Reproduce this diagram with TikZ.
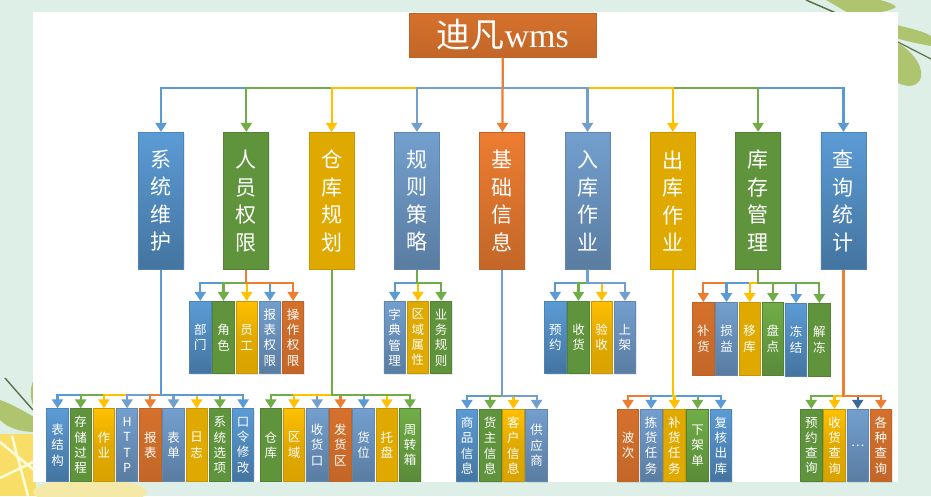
\documentclass[tikz,border=0pt]{standalone}
\usepackage{fontspec}
\setmainfont{Liberation Serif}
\newfontfamily\cjk{Noto Sans CJK SC}
\usetikzlibrary{arrows.meta,shadows}

\definecolor{cblue}{HTML}{5B9BD5}
\definecolor{cgreen}{HTML}{70AD47}
\definecolor{cgold}{HTML}{FFC000}
\definecolor{csteel}{HTML}{739FCE}
\definecolor{corange}{HTML}{ED7D31}
\definecolor{cnavy}{HTML}{3A6A98}
\definecolor{cmint}{HTML}{DEEFE8}
\definecolor{cleaf}{HTML}{AEC46F}
\definecolor{cstem}{HTML}{5F7048}
\definecolor{clemon}{HTML}{F8DE66}
\definecolor{cpale}{HTML}{F5E9A8}

\begin{document}
\begin{tikzpicture}[x=1pt, y=-1pt, node distance={23.2pt},
    box/.style = {draw, inner sep=0pt, text=white, align=center, line width=0.8pt,
        drop shadow={opacity=0.18, shadow xshift=1pt, shadow yshift=-1pt}},
    main/.style = {box, minimum width=45pt, minimum height=137pt, node distance=85.3pt,
        font=\cjk\fontsize{21}{27.5}\selectfont},
    leaf/.style = {box, minimum width=21.5pt, minimum height=72.5pt,
        font=\cjk\fontsize{12.5}{15.3}\selectfont},
    blu/.style = {draw=cblue!85!black, top color=cblue, bottom color=cblue!75!black},
    grn/.style = {draw=cgreen!75!black, fill=cgreen!85!black},
    grnb/.style = {draw=cgreen!75!black, top color=cgreen, bottom color=cgreen!80!black},
    gld/.style = {draw=cgold!78!black, fill=cgold!88!black},
    gldb/.style = {draw=cgold!78!black, top color=cgold, bottom color=cgold!85!black, middle color=cgold!88!black},
    stl/.style = {draw=csteel!85!black, top color=csteel, bottom color=csteel!78!black},
    org/.style = {draw=corange!80!black, top color=corange!90!black, bottom color=corange!82!black},
    orgb/.style = {draw=corange!80!black, top color=corange, bottom color=corange!82!black},
    link/.style = {-{Triangle[width=11pt,length=9pt]}, line width=2.2pt}]

    % page behind the diagram
    \useasboundingbox (0,0) rectangle (931,496);
    \fill[cmint] (0,0) rectangle (931,496);
    \fill[cleaf] (826,0) -- (880,0) .. controls (888,2) and (894,4) .. (896,7) .. controls (890,12) and (870,14) .. (850,14) -- cycle;
    \draw[cstem, line width=1.5pt] (806,0) -- (836,13);
    \fill[cleaf] (896,25) .. controls (910,28) and (925,32) .. (931,36) -- (931,46) .. controls (920,44) and (905,41) .. (896,38) -- cycle;
    \fill[cleaf] (896,42) .. controls (915,52) and (925,70) .. (920,80) .. controls (915,88) and (905,87) .. (896,82) -- cycle;
    \draw[cstem, line width=1.2pt] (896,41) -- (931,59);
    \fill[cleaf] (0,400) .. controls (12,404) and (25,412) .. (36,418) -- (36,432) .. controls (20,432) and (8,428) .. (0,420) -- cycle;
    \fill[cleaf] (36,375) .. controls (30,385) and (28,398) .. (36,412) -- cycle;
    \draw[cstem, line width=1.4pt] (5,378) -- (33,410);
    \fill[clemon] (-10,434) -- (36,434) -- (36,496) -- (-10,496) -- cycle;
    \draw[white!85!yellow, line width=2.5pt] (0,442) -- (34,470) (12,436) -- (28,496) (0,478) -- (33,462);
    \fill[cpale] (90,492) ellipse (57 and 13);
    \fill[white] (33,12) rectangle (898,481.5);

    % root and first row
    \node[box, org, minimum width=187pt, minimum height=44pt, font=\fontsize{34}{34}\selectfont] (0) at (502.7,35.2) {{\cjk 迪凡}wms};
    \node[main, blu] (1) at (161,200.8) {系\\统\\维\\护};
    \node[main, grn] (2) [right of = 1] {人\\员\\权\\限};
    \node[main, gld] (3) [right of = 2] {仓\\库\\规\\划};
    \node[main, stl] (4) [right of = 3] {规\\则\\策\\略};
    \node[main, orgb] (5) [right of = 4] {基\\础\\信\\息};
    \node[main, stl] (6) [right of = 5] {入\\库\\作\\业};
    \node[main, gld] (7) [right of = 6] {出\\库\\作\\业};
    \node[main, grn] (8) [right of = 7] {库\\存\\管\\理};
    \node[main, blu] (9) [right of = 8] {查\\询\\统\\计};

    % second row
    \node[leaf, blu] (201) at (200.3,337.5) {部\\门};
    \node[leaf, grn] (202) [right of = 201] {角\\色};
    \node[leaf, gldb] (203) [right of = 202] {员\\工};
    \node[leaf, stl] (204) [right of = 203] {报\\表\\权\\限};
    \node[leaf, org] (205) [right of = 204] {操\\作\\权\\限};

    \node[leaf, stl] (401) at (394.7,337.5) {字\\典\\管\\理};
    \node[leaf, gld] (402) [right of = 401] {区\\域\\属\\性};
    \node[leaf, grn] (403) [right of = 402] {业\\务\\规\\则};

    \node[leaf, blu] (601) at (555.3,337.5) {预\\约};
    \node[leaf, grn] (602) [right of = 601] {收\\货};
    \node[leaf, gldb] (603) [right of = 602] {验\\收};
    \node[leaf, stl] (604) [right of = 603] {上\\架};

    \node[leaf, org] (801) at (703.3,338.7) {补\\货};
    \node[leaf, stl] (802) [right of = 801] {损\\益};
    \node[leaf, gld] (803) [right of = 802] {移\\库};
    \node[leaf, grnb] (804) [right of = 803] {盘\\点};
    \node[leaf, blu] (805) [right of = 804, yshift=-1pt] {冻\\结};
    \node[leaf, grn] (806) [right of = 805] {解\\冻};

    % third row
    \node[leaf, blu] (101) at (57.5,445) {表\\结\\构};
    \node[leaf, grn] (102) [right of = 101] {存\\储\\过\\程};
    \node[leaf, gldb] (103) [right of = 102] {作\\业};
    \node[leaf, stl] (104) [right of = 103] {H\\T\\T\\P};
    \node[leaf, org] (105) [right of = 104] {报\\表};
    \node[leaf, stl] (106) [right of = 105] {表\\单};
    \node[leaf, gld] (107) [right of = 106] {日\\志};
    \node[leaf, grn] (108) [right of = 107] {系\\统\\选\\项};
    \node[leaf, blu] (109) [right of = 108] {口\\令\\修\\改};

    \node[leaf, grn] (301) at (270.8,445) {仓\\库};
    \node[leaf, gldb] (302) [right of = 301] {区\\域};
    \node[leaf, stl] (303) [right of = 302] {收\\货\\口};
    \node[leaf, org] (304) [right of = 303] {发\\货\\区};
    \node[leaf, stl] (305) [right of = 304] {货\\位};
    \node[leaf, gld] (306) [right of = 305] {托\\盘};
    \node[leaf, grnb] (307) [right of = 306] {周\\转\\箱};

    \node[leaf, blu] (501) at (467,445.5) {商\\品\\信\\息};
    \node[leaf, grn] (502) [right of = 501] {货\\主\\信\\息};
    \node[leaf, gldb] (503) [right of = 502] {客\\户\\信\\息};
    \node[leaf, stl] (504) [right of = 503] {供\\应\\商};

    \node[leaf, org] (701) at (628,445.5) {波\\次};
    \node[leaf, stl] (702) [right of = 701] {拣\\货\\任\\务};
    \node[leaf, gld] (703) [right of = 702] {补\\货\\任\\务};
    \node[leaf, grnb] (704) [right of = 703] {下\\架\\单};
    \node[leaf, blu] (705) [right of = 704] {复\\核\\出\\库};

    \node[leaf, grn] (901) at (811.3,445.5) {预\\约\\查\\询};
    \node[leaf, gldb] (902) [right of = 901] {收\\货\\查\\询};
    \node[leaf, stl] (903) [right of = 902] {…};
    \node[leaf, org] (904) [right of = 903] {各\\种\\查\\询};

    % root links, outermost first
    \draw[link, cblue] (0.south) -- ++(0,30) -| (1);
    \draw[link, cgreen] (0.south) -- ++(0,30) -| (2);
    \draw[link, cgold] (0.south) -- ++(0,30) -| (3);
    \draw[link, csteel] (0.south) -- ++(0,30) -| (4);
    \draw[link, cblue] (0.south) -- ++(0,30) -| (9);
    \draw[link, cgreen] (0.south) -- ++(0,30) -| (8);
    \draw[link, cgold] (0.south) -- ++(0,30) -| (7);
    \draw[link, csteel] (0.south) -- ++(0,30) -| (6);
    \draw[link, corange] (0.south) -- (5);

    % system links
    \draw[link, cblue] (1.south) -- ++(0,125.5) -| (101);
    \draw[link, cgreen] (1.south) -- ++(0,125.5) -| (102);
    \draw[link, cgold] (1.south) -- ++(0,125.5) -| (103);
    \draw[link, csteel] (1.south) -- ++(0,125.5) -| (104);
    \draw[link, corange] (1.south) -- ++(0,125.5) -| (105);
    \draw[link, csteel] (1.south) -- ++(0,125.5) -| (106);
    \draw[link, cgold] (1.south) -- ++(0,125.5) -| (107);
    \draw[link, cgreen] (1.south) -- ++(0,125.5) -| (108);
    \draw[link, cblue] (1.south) -- ++(0,125.5) -| (109);

    % staff links
    \draw[link, cblue] (2.south) -- ++(0,13.5) -| (201);
    \draw[link, cgreen] (2.south) -- ++(0,13.5) -| (202);
    \draw[link, cblue] (2.south) -- ++(0,13.5) -| (204);
    \draw[link, cgold] (2.south) -- ++(0,13.5) -| (203);
    \draw[link, corange] (2.south) -- ++(0,13.5) -| (205);

    % warehouse links
    \draw[link, csteel] (3.south) -- ++(0,125.5) -| (303);
    \draw[link, cgreen] (3.south) -- ++(0,125.5) -| (301);
    \draw[link, cgold] (3.south) -- ++(0,125.5) -| (302);
    \draw[link, corange] (3.south) -- ++(0,125.5) -| (304);
    \draw[link, cblue] (3.south) -- ++(0,125.5) -| (305);
    \draw[link, cgold] (3.south) -- ++(0,125.5) -| (306);
    \draw[link, cgreen] (3.south) -- ++(0,125.5) -| (307);

    % rule links
    \draw[link, cblue] (4.south) -- ++(0,13.5) -| (401);
    \draw[link, cgold] (4.south) -- ++(0,13.5) -| (402);
    \draw[link, cgreen] (4.south) -- ++(0,13.5) -| (403);

    % base links
    \draw[link, cblue] (5.south) -- ++(0,126) -| (501);
    \draw[link, cgreen] (5.south) -- ++(0,126) -| (502);
    \draw[link, cgold] (5.south) -- ++(0,126) -| (503);
    \draw[link, csteel] (5.south) -- ++(0,126) -| (504);

    % inbound links
    \draw[link, cgold] (6.south) -- ++(0,13.5) -| (603);
    \draw[link, cblue] (6.south) -- ++(0,13.5) -| (601);
    \draw[link, cgreen] (6.south) -- ++(0,13.5) -| (602);
    \draw[link, csteel] (6.south) -- ++(0,13.5) -| (604);

    % outbound links
    \draw[link, corange] (7.south) -- ++(0,126) -| (701);
    \draw[link, cblue] (7.south) -- ++(0,126) -| (702);
    \draw[link, cgreen] (7.south) -- ++(0,126) -| (704);
    \draw[link, cblue] (7.south) -- ++(0,126) -| (705);
    \draw[link, cgold] (7.south) -- ++(0,126) -| (703);

    % stock links
    \draw[link, corange] (8.south) -- ++(0,13.5) -| (801);
    \draw[link, cblue] (8.south) -- ++(0,13.5) -| (802);
    \draw[link, cgold] (8.south) -- ++(0,13.5) -| (803);
    \draw[link, cblue] (8.south) -- ++(0,13.5) -| (805);
    \draw[link, cgreen] (8.south) -- ++(0,13.5) -| (804);
    \draw[link, cgreen] (8.south) -- ++(0,13.5) -| (806);

    % query links
    \draw[link, cgreen] (9.south) -- ++(0,126) -| (901);
    \draw[link, cgold] (9.south) -- ++(0,126) -| (902);
    \draw[link, cnavy] (9.south) -- ++(0,126) -| (903);
    \draw[link, corange] (9.south) -- ++(0,126) -| (904);

\end{tikzpicture}
\end{document}
